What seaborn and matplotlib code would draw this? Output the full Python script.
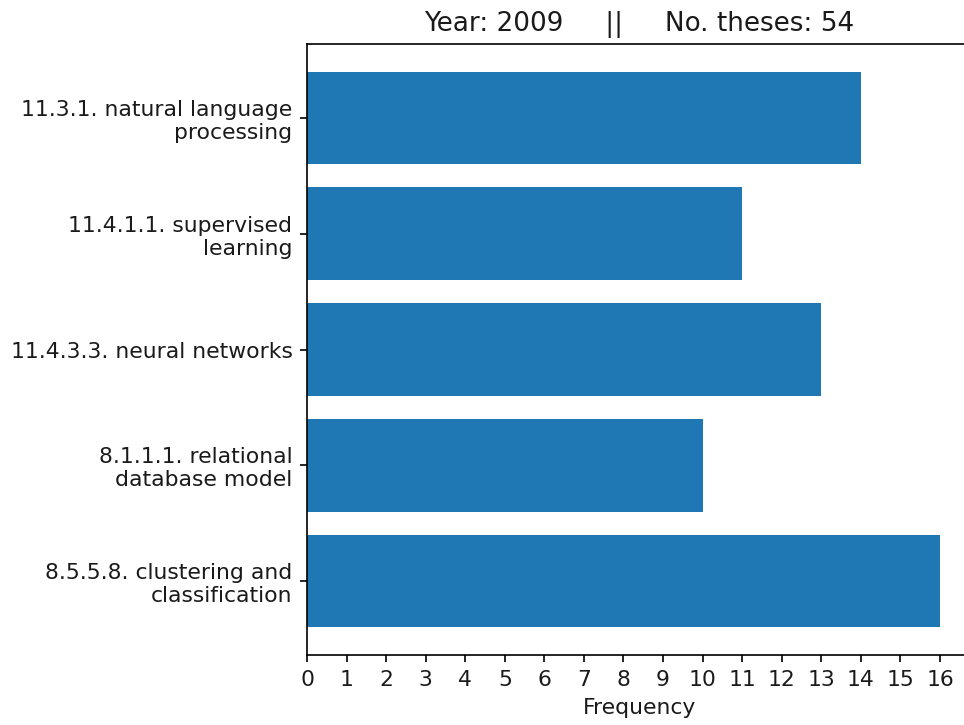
import matplotlib
matplotlib.use("Agg")
import matplotlib.pyplot as plt
import seaborn as sns
import pandas as pd

categories = [
    "11.3.1. natural language\nprocessing",
    "11.4.1.1. supervised\nlearning",
    "11.4.3.3. neural networks",
    "8.1.1.1. relational\ndatabase model",
    "8.5.5.8. clustering and\nclassification",
]
frequencies = [14, 11, 13, 10, 16]
year = 2009
n_theses = 54

df = pd.DataFrame({"topic": categories, "freq": frequencies})

plt.rcParams["font.family"] = ["DejaVu Sans"]
plt.rcParams["font.size"] = 10.5

fig = plt.figure(figsize=(964 / 150, 725 / 150), dpi=150)
ax = fig.add_axes([307 / 964, 1 - 655 / 725, 664.6 / 964, 611 / 725])

sns.barplot(data=df, x="freq", y="topic", orient="h", color="#1f77b4",
            saturation=1, width=0.8, ax=ax, errorbar=None)

ax.set_xlim(0, 16.8)
ax.set_ylim(4.64, -0.64)
ax.set_xticks(range(0, 17))
ax.set_xlabel("Frequency", color="#1a1a1a")
ax.set_ylabel("")
ax.set_title(f"Year: {year}     ||     No. theses: {n_theses}", fontsize=12.6,
             color="#1a1a1a")
for s in ax.spines.values():
    s.set_visible(True)
    s.set_color("black")
ax.tick_params(axis="both", length=3.5, width=0.8, color="black",
               labelcolor="#1a1a1a")

fig.savefig("out.png", dpi=150)
